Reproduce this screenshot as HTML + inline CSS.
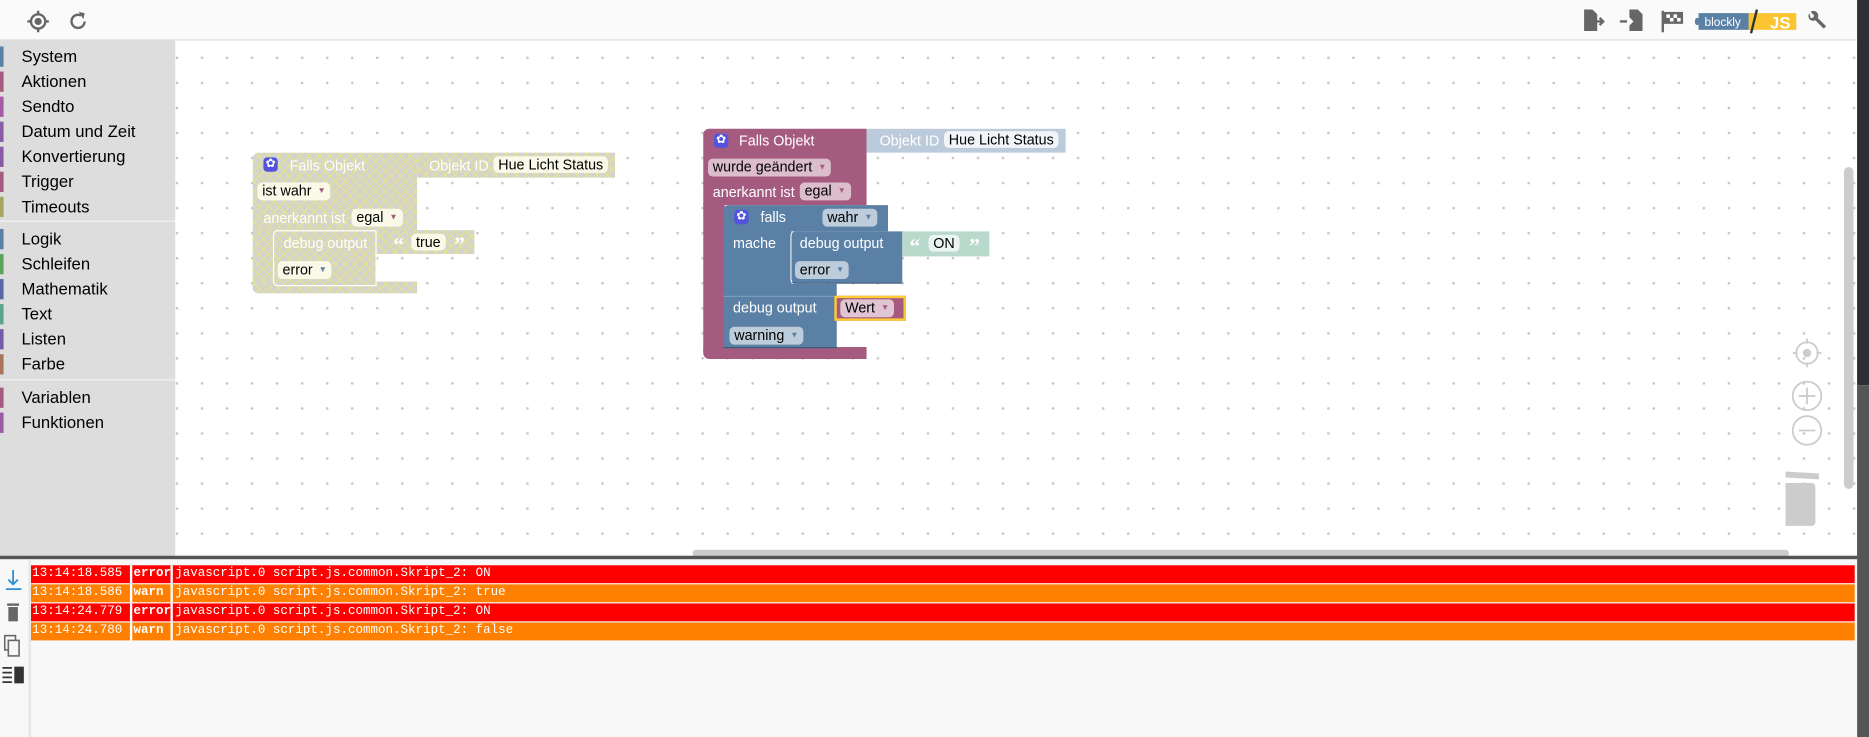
<!DOCTYPE html>
<html><head><meta charset="utf-8"><style>
html,body{margin:0;padding:0;width:1869px;height:737px;overflow:hidden;background:#fff;}
#s{position:absolute;left:0;top:0;width:1568px;height:618px;transform:scale(1.19196,1.19256);transform-origin:0 0;font-family:"Liberation Sans",sans-serif;}
.a{position:absolute;box-sizing:border-box;}
.t{position:absolute;font-size:12px;white-space:nowrap;line-height:14px;}
.q{position:absolute;font-family:"Liberation Serif",serif;font-weight:bold;font-size:18px;line-height:18px;color:#fff;}
.dd{position:absolute;background:rgba(255,255,255,0.6);border-radius:4px;font-size:12px;line-height:14px;padding:0 4px;color:#000;white-space:nowrap;}
.tri{font-size:7px;vertical-align:2px;margin-left:5px;}
.hatch{background-color:#d4d4cc;background-image:repeating-linear-gradient(45deg,rgba(230,230,130,.75) 0 1px,transparent 1px 6px),repeating-linear-gradient(-45deg,rgba(230,230,130,.75) 0 1px,transparent 1px 6px);}
.gear{position:absolute;width:12px;height:12px;background:#5353e0;border-radius:3px;color:#fff;font-size:10px;line-height:12px;text-align:center;}
.side div{position:absolute;left:0;height:21px;width:147px;font-size:14px;line-height:21px;}
.side div span{position:absolute;left:0;top:2px;width:3px;height:17px;}
.side div b{font-weight:normal;position:absolute;left:18px;}
.log{position:absolute;left:26px;width:1530px;height:15px;font-family:"Liberation Mono",monospace;font-size:10.5px;line-height:15px;color:#fff;}
.log span{position:absolute;top:0;height:15px;}
</style></head><body><div id="s">
<div class="a" style="left:0;top:0;width:1558px;height:34px;background:#fafafa;border-bottom:1px solid #ddd;"></div>
<svg class="a" style="left:22px;top:8px" width="60" height="20"><circle cx="10" cy="10" r="6" fill="none" stroke="#666" stroke-width="2"/><circle cx="10" cy="10" r="3" fill="#666"/><path d="M10 1v3M10 16v3M1 10h3M16 10h3" stroke="#666" stroke-width="2"/><path d="M46 5a5.5 5.5 0 1 0 3 5" fill="none" stroke="#666" stroke-width="2"/><path d="M44 2l5 1-1 5z" fill="#666"/></svg>
<svg class="a" style="left:1325px;top:6px" width="212" height="22">
<path d="M4 2h7l4 4v14H4z" fill="#666"/><path d="M12 12h8M17 9l3 3-3 3" stroke="#666" stroke-width="2" fill="none"/>
<path d="M42 2h7l4 4v14H42z" fill="#666"/><path d="M34 12h10M41 9l3 3-3 3" stroke="#fff" stroke-width="2" fill="none"/><path d="M34 12h6" stroke="#666" stroke-width="2"/>
<path d="M70 3v18" stroke="#666" stroke-width="2"/><rect x="71" y="4" width="16" height="10" fill="#666"/><rect x="73" y="6" width="3" height="3" fill="#fff"/><rect x="79" y="6" width="3" height="3" fill="#fff"/><rect x="76" y="9" width="3" height="3" fill="#fff"/><rect x="82" y="9" width="3" height="3" fill="#fff"/>
<rect x="100" y="5" width="48" height="14" fill="#5b80a5"/><rect x="97" y="9" width="4" height="6" rx="2" fill="#5b80a5"/><rect x="142" y="5" width="40" height="14" fill="#fbc531"/>
<text x="105" y="16" font-family="Liberation Sans" font-size="10" fill="#fff">blockly</text><text x="160" y="18" font-family="Liberation Sans" font-size="14" font-weight="bold" fill="#fff">JS</text>
<path d="M149 2l-5 20" stroke="#333" stroke-width="2"/>
<path d="M193 5a4 4 0 0 0 5 6l7 7 2-2-7-7a4 4 0 0 0-6-5l3 3-1 2-2 0z" fill="#666"/>
</svg>
<div class="a" style="left:1558px;top:0;width:10px;height:323px;background:#2d2f33;"></div>
<div class="a" style="left:1558px;top:323px;width:10px;height:295px;background:#555;"></div>
<div class="a side" style="left:0;top:34px;width:147px;height:432px;background:#ddd;">
<div style="top:3px"><span style="background:#5b80a5"></span><b>System</b></div>
<div style="top:24px"><span style="background:#a55b80"></span><b>Aktionen</b></div>
<div style="top:45px"><span style="background:#a55ba5"></span><b>Sendto</b></div>
<div style="top:66px"><span style="background:#8a5ba5"></span><b>Datum und Zeit</b></div>
<div style="top:87px"><span style="background:#8a5ba5"></span><b>Konvertierung</b></div>
<div style="top:108px"><span style="background:#a55b80"></span><b>Trigger</b></div>
<div style="top:129px"><span style="background:#a5a55b"></span><b>Timeouts</b></div>
<div style="top:156px"><span style="background:#5b80a5"></span><b>Logik</b></div>
<div style="top:177px"><span style="background:#5ba55b"></span><b>Schleifen</b></div>
<div style="top:198px"><span style="background:#5b67a5"></span><b>Mathematik</b></div>
<div style="top:219px"><span style="background:#5ba58c"></span><b>Text</b></div>
<div style="top:240px"><span style="background:#745ba5"></span><b>Listen</b></div>
<div style="top:261px"><span style="background:#a5745b"></span><b>Farbe</b></div>
<div style="top:289px"><span style="background:#a55b80"></span><b>Variablen</b></div>
<div style="top:310px"><span style="background:#9a5ba5"></span><b>Funktionen</b></div>
</div>
<div class="a" style="left:0;top:185px;width:147px;height:1px;background:#f2f2f2"></div>
<div class="a" style="left:0;top:318px;width:147px;height:1px;background:#f2f2f2"></div>
<div class="a" style="left:147px;top:34px;width:1411px;height:432px;background-image:radial-gradient(circle,#c8c8c8 1px,transparent 1.3px);background-size:21px 21px;background-position:-9px 4px;"></div>
<div class="a" style="left:1547px;top:140px;width:8px;height:270px;background:#ccc;border-radius:4px"></div>
<div class="a" style="left:581px;top:461px;width:920px;height:6px;background:#ccc;border-radius:3px"></div>
<svg class="a" style="left:1498px;top:283px" width="40" height="160">
<circle cx="18" cy="13" r="9" fill="none" stroke="#ccc" stroke-width="1.5"/><circle cx="18" cy="13" r="3.5" fill="#ccc"/><path d="M18 1v4M18 21v4M6 13h4M26 13h4" stroke="#ccc" stroke-width="1.5"/>
<circle cx="18" cy="49" r="12" fill="none" stroke="#ccc" stroke-width="1.5"/><path d="M11 49h14M18 42v14" stroke="#ccc" stroke-width="1.5"/>
<circle cx="18" cy="78" r="12" fill="none" stroke="#ccc" stroke-width="1.5"/><path d="M11 78h14" stroke="#ccc" stroke-width="1.5"/>
<path d="M-6 112l34 2v5l-34-2z" fill="#ccc"/><rect x="-5" y="122" width="30" height="36" rx="3" fill="#ccc"/>
</svg>
<!-- block 1 disabled -->
<div class="a hatch" style="left:212px;top:128px;width:138px;height:66px;border-radius:5px 0 0 0"></div>
<div class="a hatch" style="left:212px;top:193px;width:18px;height:50px"></div>
<div class="a hatch" style="left:212px;top:236px;width:138px;height:10px;border-radius:0 0 0 5px"></div>
<div class="a hatch" style="left:350px;top:128px;width:166px;height:21px"></div>
<div class="a hatch" style="left:229px;top:193px;width:87px;height:47px;border:1px solid #fff;border-radius:4px 0 0 4px"></div>
<div class="a hatch" style="left:316px;top:193px;width:82px;height:20px"></div>
<div class="gear" style="left:221px;top:132px">✿</div>
<div class="t" style="left:243px;top:132px;color:#fff">Falls Objekt</div>
<div class="t" style="left:360px;top:132px;color:#fff">Objekt ID</div>
<div class="dd" style="left:414px;top:131px;background:rgba(255,255,240,.85)">Hue Licht Status</div>
<div class="dd" style="left:216px;top:153px;background:rgba(255,255,240,.85)">ist wahr<span class="tri" style="color:#a55b80">▼</span></div>
<div class="t" style="left:221px;top:176px;color:#fff">anerkannt ist</div>
<div class="dd" style="left:295px;top:175px;background:rgba(255,255,240,.85)">egal<span class="tri" style="color:#a55b80">▼</span></div>
<div class="t" style="left:238px;top:197px;color:#fff">debug output</div>
<div class="q" style="left:330px;top:196px">“</div>
<div class="dd" style="left:345px;top:196px;background:rgba(255,255,240,.85)">true</div>
<div class="q" style="left:381px;top:196px">”</div>
<div class="dd" style="left:233px;top:219px;background:rgba(255,255,240,.85)">error<span class="tri" style="color:#5b80a5">▼</span></div>
<!-- block 2 -->
<div class="a" style="left:590px;top:108px;width:137px;height:64px;background:#a55b80;border-radius:5px 0 0 0"></div>
<div class="a" style="left:590px;top:170px;width:18px;height:125px;background:#a55b80"></div>
<div class="a" style="left:590px;top:291px;width:137px;height:10px;background:#a55b80;border-radius:0 0 0 5px"></div>
<div class="a" style="left:727px;top:108px;width:167px;height:20px;background:#bccbdb"></div>
<div class="gear" style="left:599px;top:112px">✿</div>
<div class="t" style="left:620px;top:111px;color:#fff">Falls Objekt</div>
<div class="t" style="left:738px;top:111px;color:#fff">Objekt ID</div>
<div class="dd" style="left:792px;top:110px;background:rgba(255,255,255,.8)">Hue Licht Status</div>
<div class="dd" style="left:594px;top:133px;background:rgba(255,255,255,.6)">wurde geändert<span class="tri" style="color:#a55b80">▼</span></div>
<div class="t" style="left:598px;top:154px;color:#fff">anerkannt ist</div>
<div class="dd" style="left:671px;top:153px;background:rgba(255,255,255,.6)">egal<span class="tri" style="color:#a55b80">▼</span></div>
<div class="a" style="left:607px;top:172px;width:138px;height:22px;background:#5b80a5;border-radius:4px 0 0 0"></div>
<div class="a" style="left:607px;top:193px;width:57px;height:56px;background:#5b80a5"></div>
<div class="a" style="left:607px;top:238px;width:95px;height:11px;background:#5b80a5"></div>
<div class="gear" style="left:616px;top:176px">✿</div>
<div class="t" style="left:638px;top:175px;color:#fff">falls</div>
<div class="dd" style="left:690px;top:175px;background:rgba(255,255,255,.6)">wahr<span class="tri" style="color:#5b80a5">▼</span></div>
<div class="t" style="left:615px;top:197px;color:#fff">mache</div>
<div class="a" style="left:663px;top:194px;width:94px;height:44px;background:#5b80a5;border-left:1px solid #fff;border-bottom:1px solid #3d5a77;border-radius:4px 0 0 4px"></div>
<div class="a" style="left:757px;top:194px;width:73px;height:21px;background:#bad9cd"></div>
<div class="t" style="left:671px;top:197px;color:#fff">debug output</div>
<div class="q" style="left:763px;top:197px">“</div>
<div class="dd" style="left:779px;top:197px;background:rgba(255,255,255,.7)">ON</div>
<div class="q" style="left:813px;top:197px">”</div>
<div class="dd" style="left:667px;top:219px;background:rgba(255,255,255,.6)">error<span class="tri" style="color:#5b80a5">▼</span></div>
<div class="a" style="left:607px;top:248px;width:95px;height:44px;background:#5b80a5;border-top:1px solid #7b9dbd;border-bottom:1px solid #3d5a77"></div>
<div class="t" style="left:615px;top:251px;color:#fff">debug output</div>
<div class="a" style="left:700px;top:248px;width:60px;height:21px;background:#a55b80;border:2px solid #fc3"></div>
<div class="dd" style="left:705px;top:251px;background:rgba(255,255,255,.65)">Wert<span class="tri" style="color:#a55b80">▼</span></div>
<div class="dd" style="left:612px;top:274px;background:rgba(255,255,255,.6)">warning<span class="tri" style="color:#5b80a5">▼</span></div>
<!-- log -->
<div class="a" style="left:0;top:466px;width:1558px;height:3px;background:#555"></div>
<div class="a" style="left:0;top:469px;width:1558px;height:149px;background:#f8f8f8"></div>
<div class="a" style="left:24px;top:469px;width:3px;height:149px;background:linear-gradient(90deg,#ddd,#f8f8f8)"></div>
<svg class="a" style="left:2px;top:476px" width="22" height="100">
<path d="M9 2v12M5 10l4 4 4-4M3 18h13" stroke="#2a8fd6" stroke-width="1.5" fill="none"/>
<rect x="5" y="33" width="8" height="12" fill="#666"/><rect x="4" y="30" width="10" height="2" fill="#666"/>
<rect x="2" y="57" width="9" height="12" fill="none" stroke="#666" stroke-width="1.3"/><rect x="5" y="61" width="9" height="13" fill="#f8f8f8" stroke="#666" stroke-width="1.3"/>
<path d="M0 84h8M0 88h8M0 92h8M0 96h8" stroke="#333" stroke-width="1.5"/><rect x="10" y="83" width="8" height="14" fill="#333"/>
</svg>
<div class="log" style="top:474px;background:#f00"><span style="left:1px">13:14:18.585</span><span style="left:83px;border-left:2px solid #fff;font-weight:bold;padding-left:1px">error</span><span style="left:117px;border-left:2px solid #fff;padding-left:2px">javascript.0 script.js.common.Skript_2: ON</span></div>
<div class="log" style="top:490px;background:#ff7f00"><span style="left:1px">13:14:18.586</span><span style="left:83px;border-left:2px solid #fff;font-weight:bold;padding-left:1px;width:34px">warn</span><span style="left:117px;border-left:2px solid #fff;padding-left:2px">javascript.0 script.js.common.Skript_2: true</span></div>
<div class="log" style="top:506px;background:#f00"><span style="left:1px">13:14:24.779</span><span style="left:83px;border-left:2px solid #fff;font-weight:bold;padding-left:1px">error</span><span style="left:117px;border-left:2px solid #fff;padding-left:2px">javascript.0 script.js.common.Skript_2: ON</span></div>
<div class="log" style="top:522px;background:#ff7f00"><span style="left:1px">13:14:24.780</span><span style="left:83px;border-left:2px solid #fff;font-weight:bold;padding-left:1px;width:34px">warn</span><span style="left:117px;border-left:2px solid #fff;padding-left:2px">javascript.0 script.js.common.Skript_2: false</span></div>
</div></body></html>
